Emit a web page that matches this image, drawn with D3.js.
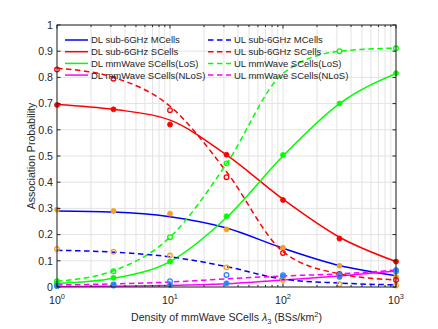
<!DOCTYPE html>
<html><head><meta charset="utf-8">
<script src="https://cdn.jsdelivr.net/npm/d3@7/dist/d3.min.js"></script>
<style>body{margin:0;background:#fff}svg{display:block}text{font-family:"Liberation Sans",Arial,Helvetica,sans-serif;fill:#262626}</style>
</head><body><svg id="c" width="438" height="329"></svg>
<script>
// ---- data ----
const densities = [1, 3.1623, 10, 31.623, 100, 316.23, 1000];
const xTickValues = [1, 10, 100, 1000];
const xTickExponents = ["0", "1", "2", "3"];
const yTickValues = [0,0.1,0.2,0.3,0.4,0.5,0.6,0.7,0.8,0.9,1];
const yTickLabels = ["0","0.1","0.2","0.3","0.4","0.5","0.6","0.7","0.8","0.9","1"];

// analytical curves
const dlMacro   = [0.290, 0.286, 0.268, 0.225, 0.148, 0.082, 0.043];
const dlSub6SC  = [0.697, 0.678, 0.637, 0.504, 0.335, 0.190, 0.097];
const dlLoS     = [0.013, 0.033, 0.097, 0.265, 0.500, 0.700, 0.815];
const dlNLoS    = [0.001, 0.003, 0.006, 0.012, 0.027, 0.042, 0.061];
const ulMacro   = [0.140, 0.133, 0.115, 0.078, 0.030, 0.015, 0.008];
const ulSub6SC  = [0.835, 0.800, 0.690, 0.440, 0.135, 0.050, 0.027];
const ulLoS     = [0.022, 0.062, 0.190, 0.470, 0.815, 0.900, 0.912];
const ulNLoS    = [0.008, 0.012, 0.019, 0.031, 0.042, 0.050, 0.065];

// simulation markers (null = not visible in the figure)
const simDlMacro  = [0.295, 0.290, 0.280, 0.220, 0.150, 0.081, 0.038];
const simDlSub6SC = [0.695, 0.678, 0.620, 0.505, 0.332, 0.185, 0.097];
const simDlLoS    = [0.015, 0.035, 0.097, 0.270, 0.504, 0.700, 0.816];
const simDlNLoS   = [0.003, 0.005, 0.008, 0.014, 0.040, 0.038, 0.065];
const simUlMacro  = [0.145, 0.135, 0.120, 0.075, 0.027, 0.011, 0.006];
const simUlSub6SC = [0.830, 0.795, 0.675, 0.419, 0.130, 0.050, 0.027];
const simUlLoS    = [0.022, 0.060, 0.190, 0.472, null, 0.900, 0.911];
const simUlNLoS   = [0.006, 0.010, 0.022, 0.046, 0.045, 0.046, 0.060];

const legendLabels = ["DL sub-6GHz MCells","DL sub-6GHz SCells","DL mmWave SCells(LoS)","DL mmWave SCells(NLoS)",
                      "UL sub-6GHz MCells","UL sub-6GHz SCells","UL mmWave SCells(LoS)","UL mmWave SCells(NLoS)"];

const series = [
  {name:legendLabels[0], vals:dlMacro,  sim:simDlMacro,  color:"#0000ff", mcolor:"#f5a01e", dash:false},
  {name:legendLabels[1], vals:dlSub6SC, sim:simDlSub6SC, color:"#ff0000", mcolor:"#ff0000", dash:false},
  {name:legendLabels[2], vals:dlLoS,    sim:simDlLoS,    color:"#00ff00", mcolor:"#00ff00", dash:false},
  {name:legendLabels[3], vals:dlNLoS,   sim:simDlNLoS,   color:"#ff00ff", mcolor:"#2a85ff", dash:false},
  {name:legendLabels[4], vals:ulMacro,  sim:simUlMacro,  color:"#0000ff", mcolor:"#f5a01e", dash:true},
  {name:legendLabels[5], vals:ulSub6SC, sim:simUlSub6SC, color:"#ff0000", mcolor:"#ff0000", dash:true},
  {name:legendLabels[6], vals:ulLoS,    sim:simUlLoS,    color:"#00ff00", mcolor:"#00ff00", dash:true},
  {name:legendLabels[7], vals:ulNLoS,   sim:simUlNLoS,   color:"#ff00ff", mcolor:"#2a85ff", dash:true}
];

// ---- layout ----
const svg = d3.select("#c");
const L = 57, R = 396, T = 25, B = 287;
const x = d3.scaleLog().domain([1,1000]).range([L,R]);
const y = d3.scaleLinear().domain([0,1]).range([B,T]);
const axisColor = "#262626";
const axFont = 10.6;

// minor ticks
const minor = [];
[1,10,100].forEach(d=>{for(let k=2;k<=9;k++) minor.push(d*k);});

// grid
const g = svg.append("g");
g.selectAll(".gx").data(xTickValues.concat(minor)).enter().append("line")
  .attr("x1",d=>x(d)).attr("x2",d=>x(d)).attr("y1",T).attr("y2",B)
  .attr("stroke","#e3e3e3").attr("stroke-width",1);
g.selectAll(".gy").data(yTickValues).enter().append("line")
  .attr("x1",L).attr("x2",R).attr("y1",d=>y(d)).attr("y2",d=>y(d))
  .attr("stroke","#e3e3e3").attr("stroke-width",1);

// clip
svg.append("clipPath").attr("id","clip").append("rect").attr("x",L).attr("y",T).attr("width",R-L).attr("height",B-T);

// lines
const line = d3.line().x((d,i)=>x(densities[i])).y(d=>y(d)).curve(d3.curveMonotoneX);
const lg = svg.append("g").attr("clip-path","url(#clip)");
series.forEach(s=>{
  lg.append("path").attr("d",line(s.vals)).attr("fill","none")
    .attr("stroke",s.color).attr("stroke-width",1.5)
    .attr("stroke-dasharray",s.dash?"5.5,3.5":null);
});

// markers
const mg = svg.append("g");
series.forEach(s=>{
  const pts = s.sim.map((v,i)=>({d:densities[i], v})).filter(p=>p.v!==null);
  mg.selectAll(null).data(pts).enter().append("circle")
    .attr("cx",p=>x(p.d)).attr("cy",p=>y(p.v))
    .attr("r",s.dash?2.3:2.5)
    .attr("fill",s.dash?"none":s.mcolor)
    .attr("stroke",s.mcolor).attr("stroke-width",s.dash?1.3:0.8);
});

// axes box
svg.append("rect").attr("x",L).attr("y",T).attr("width",R-L).attr("height",B-T)
  .attr("fill","none").attr("stroke",axisColor).attr("stroke-width",1);

// ticks
const tk = svg.append("g").attr("stroke",axisColor).attr("stroke-width",1);
yTickValues.forEach(v=>{
  tk.append("line").attr("x1",L).attr("x2",L+3.5).attr("y1",y(v)).attr("y2",y(v));
  tk.append("line").attr("x1",R).attr("x2",R-3.5).attr("y1",y(v)).attr("y2",y(v));
});
xTickValues.forEach(v=>{
  tk.append("line").attr("x1",x(v)).attr("x2",x(v)).attr("y1",B).attr("y2",B-3.5);
  tk.append("line").attr("x1",x(v)).attr("x2",x(v)).attr("y1",T).attr("y2",T+3.5);
});
minor.forEach(v=>{
  tk.append("line").attr("x1",x(v)).attr("x2",x(v)).attr("y1",B).attr("y2",B-2);
  tk.append("line").attr("x1",x(v)).attr("x2",x(v)).attr("y1",T).attr("y2",T+2);
});

// tick labels
svg.selectAll(".yl").data(yTickValues).enter().append("text")
  .attr("x",L-4).attr("y",d=>y(d)+3.8).attr("text-anchor","end")
  .attr("font-size",axFont).text((d,i)=>yTickLabels[i]);
xTickValues.forEach((v,i)=>{
  const t = svg.append("text").attr("x",x(v)).attr("y",303.5).attr("text-anchor","middle").attr("font-size",axFont);
  t.append("tspan").text("10");
  t.append("tspan").attr("dy",-5).attr("font-size",7.4).text(xTickExponents[i]);
});

// axis labels
const xl = svg.append("text").attr("x",(L+R)/2).attr("y",320.5).attr("text-anchor","middle").attr("font-size",axFont);
xl.append("tspan").text("Density of mmWave SCells ");
xl.append("tspan").attr("font-style","italic").text("λ");
xl.append("tspan").attr("dy",3).attr("font-size",7.4).text("3");
xl.append("tspan").attr("dy",-3).text(" (BSs/km");
xl.append("tspan").attr("dy",-4).attr("font-size",7.4).text("2");
xl.append("tspan").attr("dy",4).text(")");

svg.append("text").attr("transform",`translate(34.5,${(T+B)/2}) rotate(-90)`)
  .attr("text-anchor","middle").attr("font-size",axFont).text("Association Probability");

// legend
const rowsY = [40, 51.7, 63.4, 75.1];
series.forEach((s,i)=>{
  const col = Math.floor(i/4), row = i%4;
  const x0 = col===0 ? 65 : 208;
  const yy = rowsY[row];
  svg.append("line").attr("x1",x0).attr("x2",x0+23).attr("y1",yy).attr("y2",yy)
    .attr("stroke",s.color).attr("stroke-width",1.5)
    .attr("stroke-dasharray",s.dash?"5.5,3.5":null);
  svg.append("text").attr("x",x0+26).attr("y",yy+3.4).attr("font-size",9.5).text(s.name);
});
</script></body></html>
